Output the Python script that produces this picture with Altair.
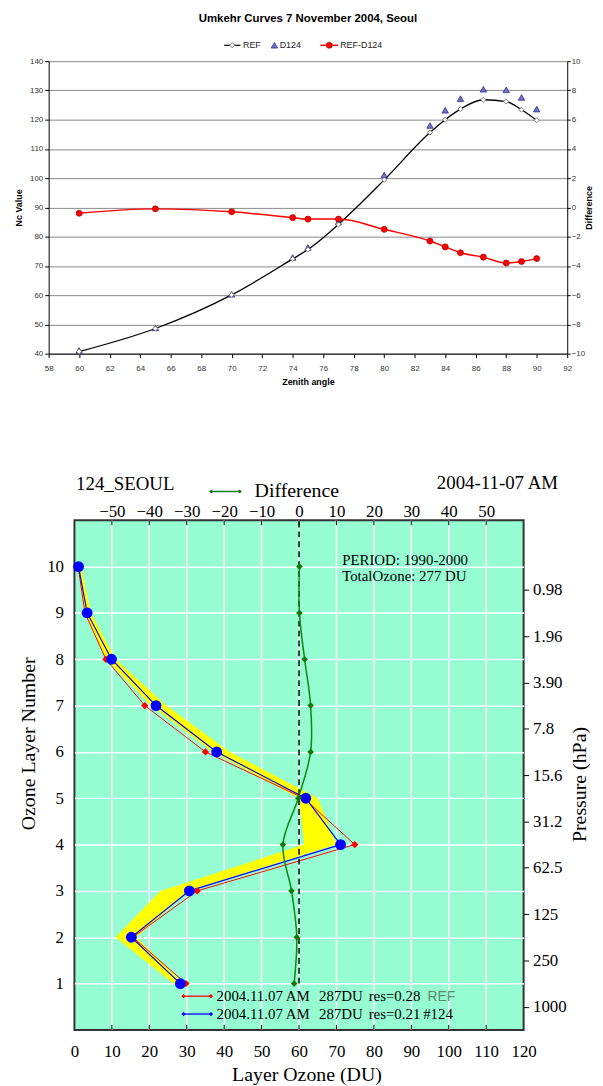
import json
import altair as alt
import pandas as pd

# ---------------- data: top panel (Umkehr curves) ----------------
zenith = [60, 65, 70, 74, 75, 77, 80, 83, 84, 85, 86.5, 88, 89, 90]
ref_nc = [40.7, 48.6, 60.1, 72.4, 75.6, 84.2, 99.4, 115.6, 120.0, 123.6, 126.8, 126.2, 123.4, 119.8]
d124_nc = [41.1, 48.8, 60.3, 72.9, 76.3, 85.0, 101.1, 118.0, 123.2, 127.2, 130.4, 130.2, 127.6, 123.6]
ref_minus_d124 = [-0.4, -0.1, -0.3, -0.7, -0.8, -0.8, -1.5, -2.3, -2.7, -3.1, -3.4, -3.8, -3.7, -3.5]
zenith_ticks = list(range(58, 93, 2))
nc_ticks = list(range(40, 141, 10))
diff_ticks = list(range(-10, 11, 2))
top_title = "Umkehr Curves 7 November 2004, Seoul"
top_legend = ["REF", "D124", "REF-D124"]

# ---------------- data: bottom panel (ozone profile) ----------------
layers = [1, 2, 3, 4, 5, 6, 7, 8, 9, 10]
ref_du = [29.8, 15.6, 32.8, 74.9, 61.3, 35.0, 18.8, 8.4, 2.8, 1.0]
d124_du = [28.3, 15.2, 30.7, 71.1, 61.8, 38.0, 21.8, 9.9, 3.4, 1.1]
band_lo = [26.5, 11.0, 23.0, 61.4, 60.0, 37.0, 20.5, 8.5, 2.7, 0.9]
band_hi = [29.0, 16.5, 30.5, 70.0, 65.0, 41.5, 24.5, 11.0, 4.4, 1.8]
difference = [-1.3, -0.6, -2.0, -4.3, -0.2, 3.1, 3.1, 1.5, 0.1, 0.1]
du_ticks = list(range(0, 121, 10))
du_inner = list(range(10, 111, 10))
diff_top_ticks = list(range(-50, 51, 10))
layer_ticks = list(range(1, 11))
pressure_pos = [0.5, 1.5, 2.5, 3.5, 4.5, 5.5, 6.5, 7.5, 8.5, 9.5]
pressure_labels = ["1000", "250", "125", "62.5", "31.2", "15.6", "7.8", "3.90", "1.96", "0.98"]
station_text = "124_SEOUL"
date_text = "2004-11-07 AM"
diff_legend_text = "Difference"
period_text = "PERIOD: 1990-2000"
total_text = "TotalOzone: 277 DU"
leg_date = "2004.11.07 AM"
leg_total = "287DU"
leg_res = ["res=0.28", "res=0.21"]
leg_name = ["REF", "#124"]

SANS = "Liberation Sans"
SERIF = "Liberation Serif"
W1, H1 = 523, 295
W2, H2 = 453, 514


def txt(text, x, y, **style):
    return alt.Chart(pd.DataFrame({"t": [text]})).mark_text(**style).encode(
        text="t:N", x=alt.value(x), y=alt.value(y))


def seg(x1, x2, y, **style):
    return alt.Chart(pd.DataFrame({"k": [0]})).mark_rule(**style).encode(
        x=alt.value(x1), x2=alt.value(x2), y=alt.value(y))


def sym(x, y, **style):
    return alt.Chart(pd.DataFrame({"k": [0]})).mark_point(**style).encode(
        x=alt.value(x), y=alt.value(y))


# ================= top panel =================
top_df = pd.DataFrame({"zenith": zenith, "ref": ref_nc, "d124": d124_nc, "diff": ref_minus_d124})


def top_axis(**kw):
    base = dict(labelFont=SANS, labelFontSize=8, labelColor="#333333", labelFlush=False,
                labelOverlap=False, domainColor="black", tickColor="black", titleFont=SANS,
                titleFontSize=9, titleFontWeight="bold", titleColor="black")
    base.update(kw)
    return alt.Axis(**base)


x_zen = alt.X("zenith:Q", scale=alt.Scale(domain=[58, 92], nice=False, zero=False),
              axis=top_axis(values=zenith_ticks, grid=False, tickSize=4, labelPadding=7,
                            title="Zenith angle", titlePadding=5))
nc_scale = alt.Scale(domain=[40, 140], nice=False, zero=False)
nc_axis = top_axis(values=nc_ticks, grid=True, gridColor="#8a8a8a", gridWidth=1, tickSize=4,
                   labelPadding=2, title="Nc Value", titlePadding=6)
diff_scale = alt.Scale(domain=[-10, 10], nice=False, zero=False)
diff_axis = top_axis(orient="right", values=diff_ticks, grid=False, tickSize=3, labelPadding=1,
                     title="Difference", titlePadding=0, titleAngle=270, titleBaseline="top")

tb = alt.Chart(top_df)
ref_line = tb.mark_line(color="black", strokeWidth=1.3, interpolate="monotone").encode(
    x=x_zen, y=alt.Y("ref:Q", scale=nc_scale, axis=nc_axis))
ref_pts = tb.mark_point(shape="diamond", filled=True, fill="white", stroke="#7a7a7a",
                        strokeWidth=1, size=26, opacity=1).encode(
    x=x_zen, y=alt.Y("ref:Q", scale=nc_scale, axis=nc_axis))
d124_pts = tb.mark_point(shape="triangle-up", filled=True, fill="#7074c4", stroke="#2b2e8c",
                         strokeWidth=0.8, size=42, opacity=1).encode(
    x=x_zen, y=alt.Y("d124:Q", scale=nc_scale, axis=nc_axis))
left_grp = alt.layer(ref_line, d124_pts, ref_pts)

diff_line = tb.mark_line(color="#ff0000", strokeWidth=1.5, interpolate="monotone").encode(
    x=x_zen, y=alt.Y("diff:Q", scale=diff_scale, axis=diff_axis))
diff_pts = tb.mark_circle(fill="#ff0000", stroke="#8b0000", strokeWidth=0.6, size=38,
                          opacity=1).encode(
    x=x_zen, y=alt.Y("diff:Q", scale=diff_scale, axis=diff_axis))
right_grp = alt.layer(diff_line, diff_pts)

LY = -16
top_texts = [
    txt(top_title, W1 / 2, -42, font=SANS, fontSize=11.5, fontWeight="bold", align="center",
        baseline="middle", color="black"),
    seg(177, 193.5, LY, color="black", strokeWidth=1.2),
    sym(185.2, LY, shape="diamond", filled=True, fill="white", stroke="#7a7a7a", strokeWidth=1,
        size=26, opacity=1),
    txt(top_legend[0], 196, LY, font=SANS, fontSize=9, align="left", baseline="middle",
        color="#222222"),
    sym(227.7, LY, shape="triangle-up", filled=True, fill="#7074c4", stroke="#2b2e8c",
        strokeWidth=0.8, size=42, opacity=1),
    txt(top_legend[1], 233, LY, font=SANS, fontSize=9, align="left", baseline="middle",
        color="#222222"),
    seg(274, 292, LY, color="#ff0000", strokeWidth=1.5),
    sym(283, LY, shape="circle", filled=True, fill="#ff0000", stroke="#8b0000",
        strokeWidth=0.6, size=38, opacity=1),
    txt(top_legend[2], 294, LY, font=SANS, fontSize=9, align="left", baseline="middle",
        color="#222222"),
]

top = alt.layer(left_grp, right_grp, *top_texts).resolve_scale(y="independent").properties(
    width=W1, height=H1)

# ================= bottom panel =================
bot_df = pd.DataFrame({"layer": layers, "ref": ref_du, "d124": d124_du, "lo": band_lo,
                       "hi": band_hi, "diff": difference})


def serif_axis(**kw):
    base = dict(labelFont=SERIF, labelFontSize=17, labelColor="black", labelFlush=False,
                labelOverlap=False, titleFont=SERIF, titleFontSize=20, titleFontWeight="normal",
                titleColor="black", domain=False, grid=False)
    base.update(kw)
    return alt.Axis(**base)


du_scale = alt.Scale(domain=[0, 120], nice=False, zero=False)
du_axis = serif_axis(values=du_ticks, ticks=False, labelPadding=14, title="Layer Ozone (DU)",
                     titlePadding=5, titleX=234)
lay_scale = alt.Scale(domain=[0, 11], nice=False, zero=False)
lay_axis = serif_axis(values=layer_ticks, ticks=False, grid=True, gridColor="white",
                      gridWidth=1.5, labelPadding=11, title="Ozone Layer Number",
                      titlePadding=8, titleY=225)
dtop_scale = alt.Scale(domain=[-60, 60], nice=False, zero=False)
dtop_axis = serif_axis(orient="top", values=diff_top_ticks, ticks=False, labelPadding=0,
                       title="")
press_axis = serif_axis(orient="right", values=pressure_pos,
                        labelExpr=json.dumps(pressure_labels) + "[floor(datum.value)]",
                        ticks=True, tickSize=5, tickColor="black", tickWidth=1, labelPadding=4,
                        title="Pressure (hPa)", titlePadding=3, titleAngle=270,
                        titleBaseline="top", titleY=266)


def xdu(f):
    return alt.X(f, scale=du_scale, axis=du_axis)


def ylay(f):
    return alt.Y(f, scale=lay_scale, axis=lay_axis)


def xdt(f):
    return alt.X(f, scale=dtop_scale, axis=dtop_axis)


def ypr(f):
    return alt.Y(f, scale=lay_scale, axis=press_axis)


bb = alt.Chart(bot_df)
inner_df = pd.DataFrame({"v": du_inner})
grid_x = alt.Chart(inner_df).mark_rule(color="white", strokeWidth=1.5).encode(x=xdu("v:Q"))
band = bb.mark_area(orient="horizontal", color="#ffff00", opacity=1).encode(
    y=ylay("layer:Q"), x=xdu("lo:Q"), x2="hi:Q")
tick_top = alt.Chart(inner_df).mark_rule(color="black", strokeWidth=1).encode(
    x=xdu("v:Q"), y=alt.value(0), y2=alt.value(5))
tick_bot = alt.Chart(inner_df).mark_rule(color="black", strokeWidth=1).encode(
    x=xdu("v:Q"), y=alt.value(H2 - 5), y2=alt.value(H2))
red_line = bb.mark_line(color="#ff0000", strokeWidth=1).encode(
    x=xdu("ref:Q"), y=ylay("layer:Q"), order="layer:Q")
blue_line = bb.mark_line(color="#0000ff", strokeWidth=1.2).encode(
    x=xdu("d124:Q"), y=ylay("layer:Q"), order="layer:Q")
red_pts = bb.mark_point(shape="diamond", filled=True, color="#ff0000", size=55, opacity=1).encode(
    x=xdu("ref:Q"), y=ylay("layer:Q"))
blue_pts = bb.mark_circle(color="#0000ff", size=120, opacity=1).encode(
    x=xdu("d124:Q"), y=ylay("layer:Q"))

serif_txt = dict(font=SERIF, color="black", baseline="alphabetic")
bot_texts = [
    txt(station_text, 1.7, -30, fontSize=19, align="left", **serif_txt),
    txt(date_text, 487.7, -32, fontSize=19, align="right", **serif_txt),
    seg(138, 166.7, -29, color="#0b7d0b", strokeWidth=1.5),
    sym(138, -29, shape="diamond", filled=True, color="#0b7d0b", size=18, opacity=1),
    sym(166.7, -29, shape="diamond", filled=True, color="#0b7d0b", size=18, opacity=1),
    txt(diff_legend_text, 181.7, -23, fontSize=20, align="left", **serif_txt),
    txt(period_text, 270, 45, fontSize=15, align="left", **serif_txt),
    txt(total_text, 270, 61.7, fontSize=15, align="left", **serif_txt),
    seg(110, 137.7, H2 - 34, color="#ff0000", strokeWidth=1.3),
    sym(110, H2 - 34, shape="diamond", filled=True, color="#ff0000", size=18, opacity=1),
    sym(137.7, H2 - 34, shape="diamond", filled=True, color="#ff0000", size=18, opacity=1),
    seg(110, 137.7, H2 - 16, color="#0000ff", strokeWidth=1.3),
    sym(110, H2 - 16, shape="diamond", filled=True, color="#0000ff", size=18, opacity=1),
    sym(137.7, H2 - 16, shape="diamond", filled=True, color="#0000ff", size=18, opacity=1),
    txt(leg_date, 143.3, H2 - 29, fontSize=15, align="left", **serif_txt),
    txt(leg_total, 246.7, H2 - 29, fontSize=15, align="left", **serif_txt),
    txt(leg_res[0], 296.7, H2 - 29, fontSize=15, align="left", **serif_txt),
    txt(leg_name[0], 356, H2 - 29, font=SANS, fontSize=14, align="left", baseline="alphabetic",
        color="#5e8a70"),
    txt(leg_date, 143.3, H2 - 11, fontSize=15, align="left", **serif_txt),
    txt(leg_total, 246.7, H2 - 11, fontSize=15, align="left", **serif_txt),
    txt(leg_res[1], 296.7, H2 - 11, fontSize=15, align="left", **serif_txt),
    txt(leg_name[1], 351.7, H2 - 11, fontSize=15, align="left", **serif_txt),
]

layer_a = alt.layer(grid_x, band, tick_top, tick_bot, red_line, blue_line, red_pts, blue_pts,
                    *bot_texts)

zero_df = pd.DataFrame({"d": [0], "y1": [1], "y2": [11]})
zero_line = alt.Chart(zero_df).mark_rule(color="black", strokeDash=[6, 4], strokeWidth=1.5).encode(
    x=xdt("d:Q"), y=ypr("y1:Q"), y2="y2:Q")
green_line = bb.mark_line(color="#0b8a0b", strokeWidth=1.5, interpolate="catmull-rom").encode(
    x=xdt("diff:Q"), y=ypr("layer:Q"), order="layer:Q")
green_pts = bb.mark_point(shape="diamond", filled=True, color="#0b7d0b", size=45, opacity=1).encode(
    x=xdt("diff:Q"), y=ypr("layer:Q"))
layer_b = alt.layer(zero_line, green_line, green_pts)

bottom = alt.layer(layer_a, layer_b).resolve_scale(x="independent", y="independent").properties(
    width=W2, height=H2,
    view=alt.ViewBackground(fill="#96fdd3", stroke="#333333", strokeWidth=2))

spacer = alt.Chart(pd.DataFrame({"s": [0]})).mark_point(opacity=0).encode(
    x=alt.X("s:Q", axis=None), y=alt.Y("s:Q", axis=None)).properties(width=26, height=H2)

row2 = alt.hconcat(spacer, bottom, spacing=0, bounds="flush")
chart = alt.vconcat(top, row2, spacing=168, bounds="flush").properties(
    padding={"left": 6, "top": 0, "right": 0, "bottom": 0}
).configure_view(stroke="transparent")

chart.save("out.html", embed_options={"renderer": "svg", "actions": False})
